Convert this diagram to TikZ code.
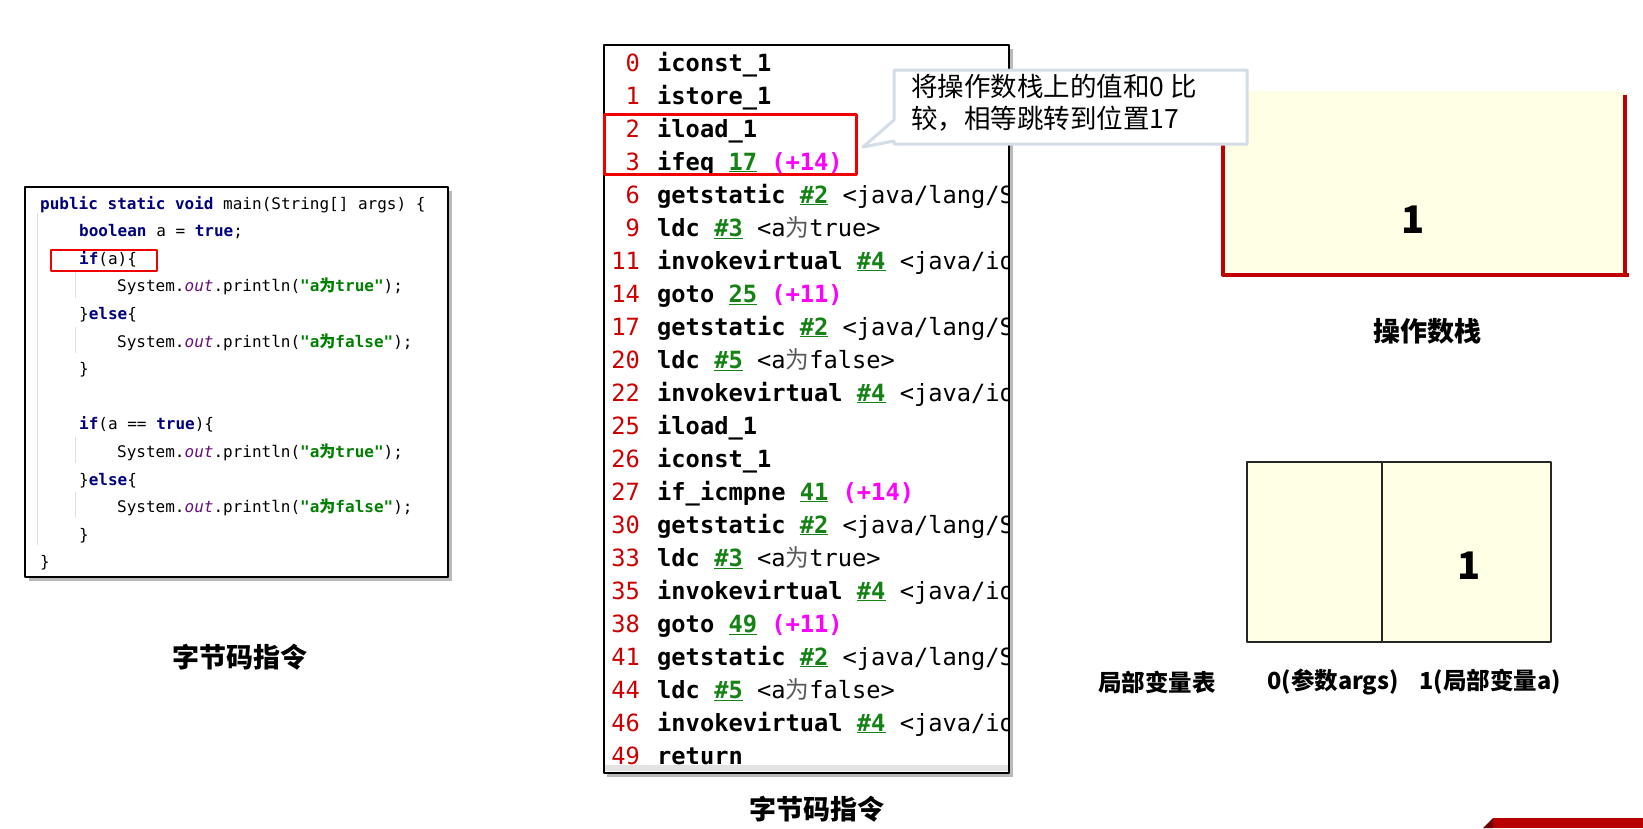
\documentclass[tikz,border=0pt]{standalone}
\usepackage{fontspec}
\setmonofont{DejaVu Sans Mono}
\newfontfamily\cjk{Noto Sans CJK SC}

\definecolor{kwnavy}{RGB}{0,0,128}
\definecolor{strgreen}{RGB}{0,128,0}
\definecolor{fldpurple}{RGB}{102,14,122}
\definecolor{numred}{RGB}{204,0,0}
\definecolor{refgreen}{RGB}{20,130,20}
\definecolor{ofsmagenta}{RGB}{255,0,255}
\definecolor{boxred}{RGB}{240,0,0}
\definecolor{stackred}{RGB}{192,0,0}
\definecolor{cellfill}{RGB}{255,255,230}
\definecolor{notegray}{RGB}{212,220,232}
\definecolor{bannerred}{RGB}{185,0,0}

% code colouring
\newcommand{\kw}[1]{{\color{kwnavy}\bfseries #1}}
\newcommand{\jstr}[1]{{\color{strgreen}\bfseries #1}}
\newcommand{\fld}[1]{{\color{fldpurple}\itshape #1}}
\newcommand{\wei}{{\cjk 为}}
% bytecode colouring
\newcommand{\tgt}[1]{{\color{refgreen}\underline{#1}}}
\newcommand{\ofs}[1]{{\color{ofsmagenta}#1}}
\newcommand{\desc}[1]{\textmd{#1}}
\newcommand{\dwei}{{\cjk\mdseries\color{black!65}为}}
\newcommand{\bline}[3]{%
  \node[bnum] (n#1) at (640,{71+33*#1}) {#2};
  \node[bins] (i#1) at (657,{71+33*#1}) {#3};}

\begin{document}
\begin{tikzpicture}[x=1pt, y=-1pt, line join=round,
    code/.style={anchor=base west, inner sep=0pt, font=\ttfamily\fontsize{16pt}{19pt}\selectfont},
    bnum/.style={anchor=base east, inner sep=0pt, text=numred, font=\ttfamily\fontsize{23.7pt}{28pt}\selectfont},
    bins/.style={anchor=base west, inner sep=0pt, font=\ttfamily\bfseries\fontsize{23.7pt}{28pt}\selectfont},
    capt/.style={inner sep=0pt, font=\cjk\bfseries\fontsize{27pt}{32pt}\selectfont},
    varlbl/.style={inner sep=0pt, font=\cjk\bfseries\fontsize{23.5pt}{28pt}\selectfont},
    bignum/.style={inner sep=0pt, font=\cjk\bfseries\fontsize{38pt}{44pt}\selectfont},
    hilite/.style={draw=boxred, line width=2.8pt},
    guide/.style={draw=gray!25, line width=1pt},
    shadow/.style={fill=gray!55},
    frame/.style={draw=black, line width=2pt, fill=white}]
  \useasboundingbox (0,0) rectangle (1643,828);

  % 1. Java source
  \fill[shadow] (29,191) rectangle (452,581);
  \draw[frame] (25,187) rectangle (448,577);
  \draw[guide] (37,213) -- (37,545);
  \foreach \b in {292,347,457,512}
    \draw[guide] (75,\b-20) -- (75,\b+6);
  \node[code] (c0) at (40,209) {\kw{public static void} main(String[] args) \{};
  \node[code] (c1) at (79,236.6) {\kw{boolean} a = \kw{true};};
  \node[code] (c2) at (79,264.2) {\kw{if}(a)\{};
  \node[code] (c3) at (117,291.8) {System.\fld{out}.println(\jstr{"a\wei true"});};
  \node[code] (c4) at (79,319.4) {\}\kw{else}\{};
  \node[code] (c5) at (117,347) {System.\fld{out}.println(\jstr{"a\wei false"});};
  \node[code] (c6) at (79,374.6) {\}};
  \node[code] (c8) at (79,429.8) {\kw{if}(a == \kw{true})\{};
  \node[code] (c9) at (117,457.4) {System.\fld{out}.println(\jstr{"a\wei true"});};
  \node[code] (c10) at (79,485) {\}\kw{else}\{};
  \node[code] (c11) at (117,512.6) {System.\fld{out}.println(\jstr{"a\wei false"});};
  \node[code] (c12) at (79,540.2) {\}};
  \node[code] (c13) at (40,567.8) {\}};
  \draw[hilite] (51,250) rectangle (157,271);
  \node[capt] (srccap) at (240,657) {字节码指令};

  % 2. bytecode listing
  \fill[shadow] (607,49) rectangle (1013,777);
  \draw[frame] (604,45) rectangle (1009,773);
  \begin{scope}
    \clip (605,46) rectangle (1008,772);
    \fill[gray!22] (605,765) rectangle (1008,771);
    \bline{0}{0}{iconst\_1}
    \bline{1}{1}{istore\_1}
    \bline{2}{2}{iload\_1}
    \bline{3}{3}{ifeq \tgt{17} \ofs{(+14)}}
    \bline{4}{6}{getstatic \tgt{\#2} \desc{<java/lang/S}}
    \bline{5}{9}{ldc \tgt{\#3} \desc{<a\dwei true>}}
    \bline{6}{11}{invokevirtual \tgt{\#4} \desc{<java/io}}
    \bline{7}{14}{goto \tgt{25} \ofs{(+11)}}
    \bline{8}{17}{getstatic \tgt{\#2} \desc{<java/lang/S}}
    \bline{9}{20}{ldc \tgt{\#5} \desc{<a\dwei false>}}
    \bline{10}{22}{invokevirtual \tgt{\#4} \desc{<java/io}}
    \bline{11}{25}{iload\_1}
    \bline{12}{26}{iconst\_1}
    \bline{13}{27}{if\_icmpne \tgt{41} \ofs{(+14)}}
    \bline{14}{30}{getstatic \tgt{\#2} \desc{<java/lang/S}}
    \bline{15}{33}{ldc \tgt{\#3} \desc{<a\dwei true>}}
    \bline{16}{35}{invokevirtual \tgt{\#4} \desc{<java/io}}
    \bline{17}{38}{goto \tgt{49} \ofs{(+11)}}
    \bline{18}{41}{getstatic \tgt{\#2} \desc{<java/lang/S}}
    \bline{19}{44}{ldc \tgt{\#5} \desc{<a\dwei false>}}
    \bline{20}{46}{invokevirtual \tgt{\#4} \desc{<java/io}}
    \bline{21}{49}{return}
  \end{scope}
  \draw[hilite, line width=3pt] (604,114) rectangle (856,174);
  \node[capt] (bccap) at (817,809) {字节码指令};

  % 3. operand stack
  \fill[cellfill] (1223,91) rectangle (1625,275);
  \draw[stackred, line width=4pt] (1223,91) -- (1223,275) -- (1629,275);
  \draw[stackred, line width=4pt] (1625,95) -- (1625,275);
  \node[bignum] (top) at (1413,220) {1};
  \node[capt] (stackcap) at (1427,331) {操作数栈};

  % 4. callout on ifeq
  \coordinate (tip) at (863,147);
  \draw[notegray, line width=3pt, fill=white]
    (894,70) -- (1247,70) -- (1247,144) -- (894,144) -- (894,141) -- (tip) -- (894,120) -- cycle;
  \node[anchor=north west, inner sep=0pt, align=left,
        font=\cjk\fontsize{26.5pt}{31.5pt}\selectfont] (note) at (911,74)
    {将操作数栈上的值和0 比\\较，相等跳转到位置17};

  % 5. local variable table
  \fill[cellfill] (1247,462) rectangle (1551,642);
  \draw[black!85, line width=2pt] (1247,462) rectangle (1551,642);
  \draw[black!85, line width=2pt] (1382,462) -- (1382,642);
  \node[bignum] (slot1) at (1469,566) {1};
  \node[varlbl] (lvt) at (1157,682) {局部变量表};
  \node[varlbl] (arg0) at (1333,682) {0(参数args)};
  \node[varlbl] (var1) at (1490,682) {1(局部变量a)};

  % 6. corner banner
  \fill[bannerred] (1493,818) rectangle (1643,828);
  \fill[bannerred!60!black] (1483,828) -- (1493,818) -- (1493,828) -- cycle;
\end{tikzpicture}
\end{document}
